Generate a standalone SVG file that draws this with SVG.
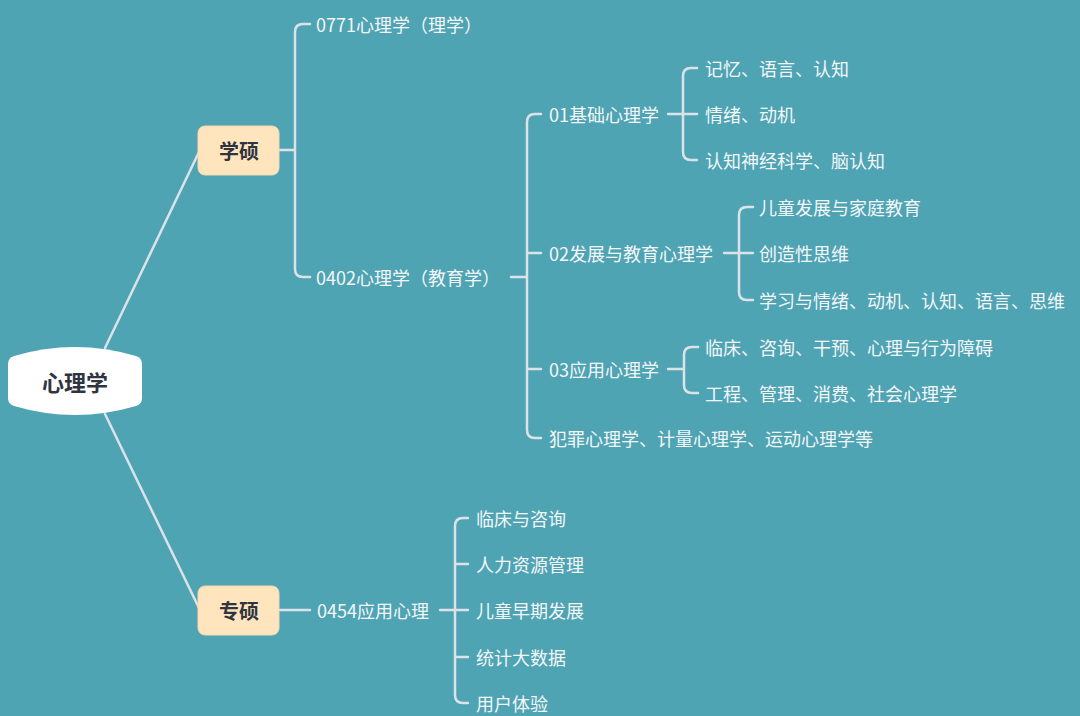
<svg xmlns="http://www.w3.org/2000/svg" width="1080" height="716" viewBox="0 0 1080 716">
<style>
.c{fill:none;stroke:#DCE3E8;stroke-width:2.5;stroke-linecap:round}
.t{font-family:"Noto Sans CJK SC","Microsoft YaHei",sans-serif;font-size:18px;fill:#F3F6F8;dominant-baseline:central}
.b{font-family:"Noto Sans CJK SC",sans-serif;font-weight:bold;fill:#2F3540;dominant-baseline:central;text-anchor:middle}
.box{fill:#FFE5BE;stroke:#F5D9AE;stroke-width:1}
</style>
<rect width="1080" height="716" fill="#4FA4B4"/>
<g id="connectors">
<path class="c" d="M105,348 L199,152"/>
<path class="c" d="M105,414 L199,608"/>
<path class="c" d="M279,150 H295 M310,24 H303 Q295,24 295,32 V269 Q295,277 303,277 H310"/>
<path class="c" d="M511,277 H527 M541,114 H535 Q527,114 527,122 V430 Q527,438 535,438 H541 M527,253 H541 M527,369 H541"/>
<path class="c" d="M668,114 H697 M697,68 H691 Q683,68 683,76 V152 Q683,160 691,160 H697"/>
<path class="c" d="M724,253 H753 M753,207 H747 Q739,207 739,215 V292 Q739,300 747,300 H753"/>
<path class="c" d="M668,369 H684 M698,347 H692 Q684,347 684,355 V385 Q684,393 692,393 H698"/>
<path class="c" d="M280,610 H310 M440,610 H468 M468,518 H463 Q455,518 455,526 V695 Q455,703 463,703 H468 M455,564 H468 M455,657 H468"/>
</g>
<g id="root">
<path d="M14,356 Q75,338 136,356 Q142,358 142,364 L142,398 Q142,404 136,406 Q75,424 14,406 Q8,404 8,398 L8,364 Q8,358 14,356 Z" fill="#FFFFFF"/>
<text class="b" x="75" y="381" font-size="22">心理学</text>
</g>
<g id="xueshuo">
<rect class="box" x="198" y="126" width="81" height="49" rx="7"/>
<text class="b" x="239" y="150" font-size="20">学硕</text>
</g>
<g id="zhuanshuo">
<rect class="box" x="198" y="586" width="81" height="49" rx="7"/>
<text class="b" x="239" y="610" font-size="20">专硕</text>
</g>
<g id="n0771"><text class="t" x="316" y="24">0771心理学（理学）</text></g>
<g id="n0402"><text class="t" x="316" y="277">0402心理学（教育学）</text></g>
<g id="n01"><text class="t" x="549" y="114">01基础心理学</text></g>
<g id="n01a"><text class="t" x="705" y="68">记忆、语言、认知</text></g>
<g id="n01b"><text class="t" x="705" y="114">情绪、动机</text></g>
<g id="n01c"><text class="t" x="705" y="160">认知神经科学、脑认知</text></g>
<g id="n02"><text class="t" x="549" y="253">02发展与教育心理学</text></g>
<g id="n02a"><text class="t" x="759" y="207">儿童发展与家庭教育</text></g>
<g id="n02b"><text class="t" x="759" y="253">创造性思维</text></g>
<g id="n02c"><text class="t" x="759" y="300">学习与情绪、动机、认知、语言、思维</text></g>
<g id="n03"><text class="t" x="549" y="369">03应用心理学</text></g>
<g id="n03a"><text class="t" x="705" y="347">临床、咨询、干预、心理与行为障碍</text></g>
<g id="n03b"><text class="t" x="705" y="393">工程、管理、消费、社会心理学</text></g>
<g id="n04"><text class="t" x="549" y="438">犯罪心理学、计量心理学、运动心理学等</text></g>
<g id="n0454"><text class="t" x="317" y="610">0454应用心理</text></g>
<g id="p1"><text class="t" x="476" y="518">临床与咨询</text></g>
<g id="p2"><text class="t" x="476" y="564">人力资源管理</text></g>
<g id="p3"><text class="t" x="476" y="610">儿童早期发展</text></g>
<g id="p4"><text class="t" x="476" y="657">统计大数据</text></g>
<g id="p5"><text class="t" x="476" y="703">用户体验</text></g>
</svg>
